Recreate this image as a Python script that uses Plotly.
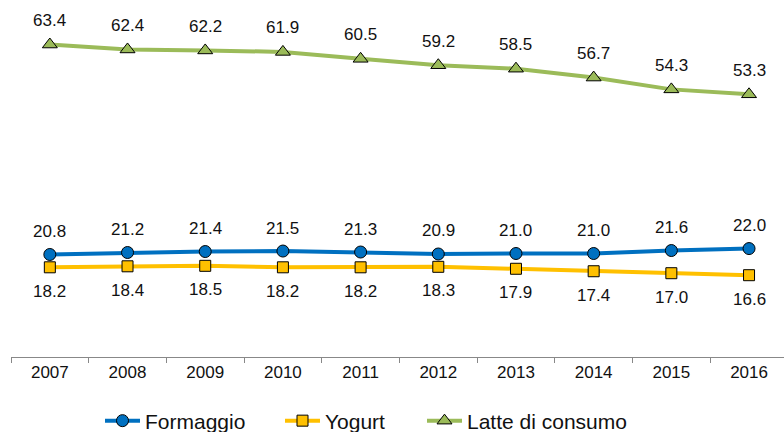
import plotly.graph_objects as go

years = ["2007", "2008", "2009", "2010", "2011", "2012", "2013", "2014", "2015", "2016"]
formaggio = [20.8, 21.2, 21.4, 21.5, 21.3, 20.9, 21.0, 21.0, 21.6, 22.0]
yogurt = [18.2, 18.4, 18.5, 18.2, 18.2, 18.3, 17.9, 17.4, 17.0, 16.6]
latte = [63.4, 62.4, 62.2, 61.9, 60.5, 59.2, 58.5, 56.7, 54.3, 53.3]

FONT = "Liberation Sans, Arial, sans-serif"

# name, values, colour, symbol, size, label shift, legend id, legend x (px)
series = [
    ("Formaggio", formaggio, "#0070C0", "circle", 12, 23, "legend", 100),
    ("Yogurt", yogurt, "#FFC000", "square", 11, -24, "legend2", 280),
    ("Latte di consumo", latte, "#9BBB59", "triangle-up", 13, 24, "legend3", 422),
]

L, R, T, B = 11, 0, 12, 75
W, H = 784, 432
pw = W - L - R

fig = go.Figure()
annotations = []
legends = {}
for name, vals, color, sym, size, shift, leg, lx in series:
    fig.add_trace(go.Scatter(
        x=years, y=vals, name=name, mode="lines+markers", legend=leg,
        line=dict(color=color, width=4),
        marker=dict(symbol=sym, size=size, color=color, line=dict(color="black", width=1)),
    ))
    for i, v in enumerate(vals):
        annotations.append(dict(
            x=i, y=v, xref="x", yref="y", text=f"{v:.1f}", showarrow=False,
            yshift=shift, font=dict(family=FONT, size=17, color="#111111"),
        ))
    legends[leg] = dict(
        orientation="h", x=lx / W, xref="container", xanchor="left",
        y=(H - 421) / H, yref="container", yanchor="middle",
        font=dict(family=FONT, size=21, color="#111111"),
        itemwidth=35, bgcolor="rgba(0,0,0,0)", borderwidth=0,
    )

fig.update_layout(
    width=W, height=H,
    margin=dict(l=L, r=R, t=T, b=B, autoexpand=False),
    paper_bgcolor="white", plot_bgcolor="white",
    font=dict(family=FONT, size=17, color="#111111"),
    annotations=annotations,
    showlegend=True,
    xaxis=dict(type="category", range=[-0.5, 9.45], showline=True, linecolor="#888888",
               linewidth=1, ticks="outside", tickson="boundaries", ticklen=5,
               tickcolor="#888888", showgrid=False, zeroline=False, automargin=False,
               tickfont=dict(family=FONT, size=17, color="#111111")),
    yaxis=dict(range=[0, 70], visible=False, showgrid=False, zeroline=False, automargin=False),
    **legends,
)

fig.write_html("out.html", config={"displayModeBar": False},
               post_script="document.body.style.margin='0';document.body.style.overflow='hidden';")
